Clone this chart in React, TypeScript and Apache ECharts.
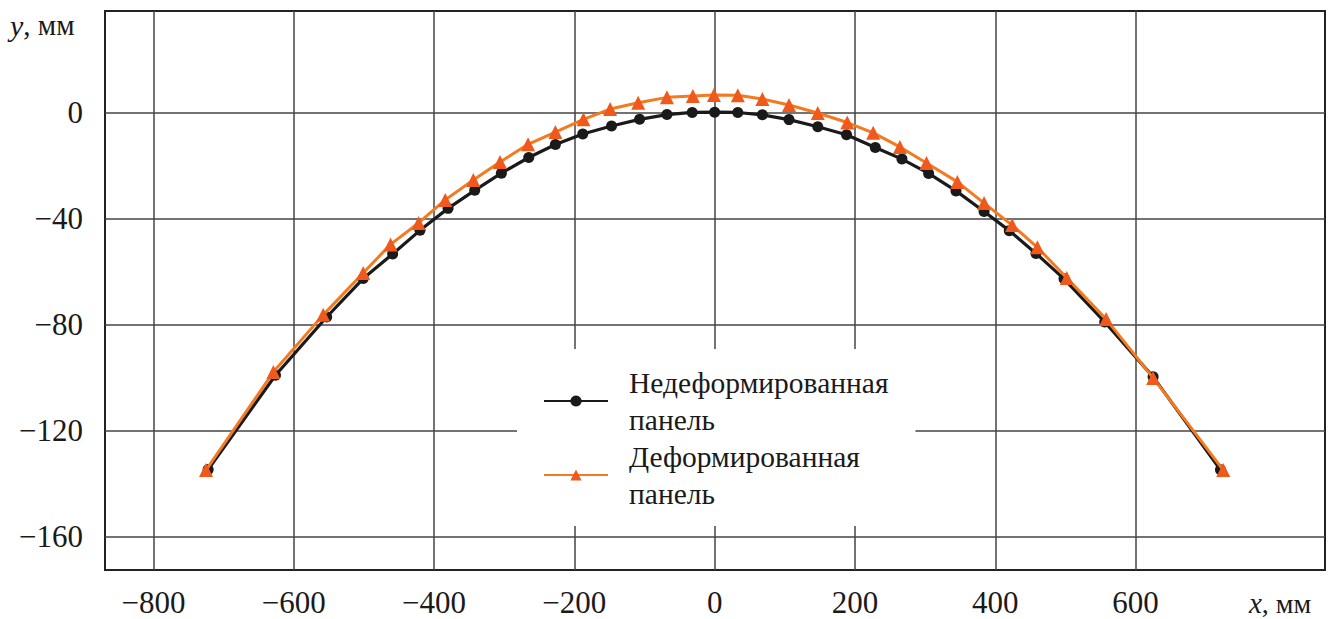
import React, { useEffect, useRef } from 'react';
import * as echarts from 'echarts';

const xUndeformed = [-722, -626, -553, -501, -459, -420, -380, -342, -304, -265, -227, -188, -147, -107, -68, -32, 0, 33, 68, 106, 147, 188, 229, 267, 305, 344, 384, 420, 458, 498, 556, 625, 721];
const yUndeformed = [-134.6, -99.0, -77.0, -62.5, -53.2, -44.3, -36.0, -29.2, -22.7, -16.8, -11.9, -7.9, -4.9, -2.4, -0.6, 0.2, 0.3, 0.2, -0.7, -2.5, -5.2, -8.2, -13.0, -17.4, -22.8, -29.4, -37.2, -44.4, -53.0, -62.6, -78.9, -99.6, -134.7];
const xDeformed = [-725, -629, -558, -501, -462, -422, -384, -344, -306, -266, -227, -187, -149, -109, -68, -31, -1, 33, 68, 106, 147, 189, 226, 264, 302, 346, 384, 424, 460, 502, 558, 625, 725];
const yDeformed = [-134.8, -97.8, -76.2, -60.4, -49.6, -41.5, -32.8, -25.3, -18.5, -11.8, -7.2, -2.4, 1.5, 3.9, 5.9, 6.4, 6.8, 6.7, 5.3, 3.0, 0.0, -3.6, -7.5, -12.8, -18.9, -26.0, -34.0, -42.3, -50.7, -62.3, -77.8, -100.0, -134.8];

const xTicks = [-800, -600, -400, -200, 0, 200, 400, 600];
const yTicks = [-160, -120, -80, -40, 0];
const seriesNames = ['Недеформированная\nпанель', 'Деформированная\nпанель'];

const FONT = 'Liberation Serif, serif';
const fmt = (v: number) => String(v).replace('-', '\u2212');

export default function App() {
  const ref = useRef<HTMLDivElement>(null);
  useEffect(() => {
    document.body.style.margin = '0';
    const chart = echarts.init(ref.current!, null, { renderer: 'svg' });
    const pair = (xs: number[], ys: number[]) => xs.map((x, i) => [x, ys[i]]);
    chart.setOption({
      animation: false,
      textStyle: { fontFamily: FONT },
      grid: {
        left: 105, right: 3, top: 11, bottom: 49,
        show: true, borderColor: '#222', borderWidth: 2, backgroundColor: 'transparent',
      },
      xAxis: {
        type: 'value', min: -869, max: 870,
        axisLine: { show: false },
        axisTick: { show: false, customValues: xTicks },
        axisLabel: { customValues: xTicks, formatter: fmt, color: '#1a1a1a', fontSize: 31, fontFamily: FONT, margin: 17 },
        splitLine: { show: true, lineStyle: { color: '#444', width: 1.5 } },
      },
      yAxis: {
        type: 'value', min: -172.5, max: 38.5,
        axisLine: { show: false },
        axisTick: { show: false, customValues: yTicks },
        axisLabel: { customValues: yTicks, formatter: fmt, color: '#1a1a1a', fontSize: 31, fontFamily: FONT, margin: 22 },
        splitLine: { show: true, lineStyle: { color: '#444', width: 1.5 } },
      },
      legend: {
        orient: 'vertical', left: 517, top: 349,
        backgroundColor: '#fff',
        padding: [15, 27, 14, 26],
        itemGap: 0, itemWidth: 64, itemHeight: 14,
        textStyle: { fontFamily: FONT, fontSize: 29.5, color: '#1a1a1a', lineHeight: 37, padding: [0, 0, 0, 16] },
        data: seriesNames,
      },
      graphic: [
        {
          type: 'text', x: 10, y: 10,
          style: {
            text: '{i|y}, мм',
            fontFamily: FONT, fontSize: 29, fill: '#1a1a1a',
            rich: { i: { fontStyle: 'italic', fontFamily: FONT, fontSize: 30, fill: '#1a1a1a' } },
          },
        },
        {
          type: 'text', x: 1249, y: 603,
          style: {
            text: '{i|x}, мм',
            fontFamily: FONT, fontSize: 28, fill: '#1a1a1a', verticalAlign: 'middle', lineHeight: 28,
            rich: { i: { fontStyle: 'italic', fontFamily: FONT, fontSize: 29, fill: '#1a1a1a', lineHeight: 28 } },
          },
        },
      ],
      series: [
        {
          name: seriesNames[0], type: 'line', data: pair(xUndeformed, yUndeformed),
          symbol: 'circle', symbolSize: 11, z: 3,
          lineStyle: { color: '#1a1a1a', width: 3.2 },
          itemStyle: { color: '#1a1a1a' },
        },
        {
          name: seriesNames[1], type: 'line', data: pair(xDeformed, yDeformed),
          symbol: 'triangle', symbolSize: 14, z: 4,
          lineStyle: { color: '#f47a20', width: 3 },
          itemStyle: { color: '#ef5a1c' },
        },
      ],
    });
    return () => chart.dispose();
  }, []);
  return <div ref={ref} style={{ width: 1328, height: 619 }} />;
}
